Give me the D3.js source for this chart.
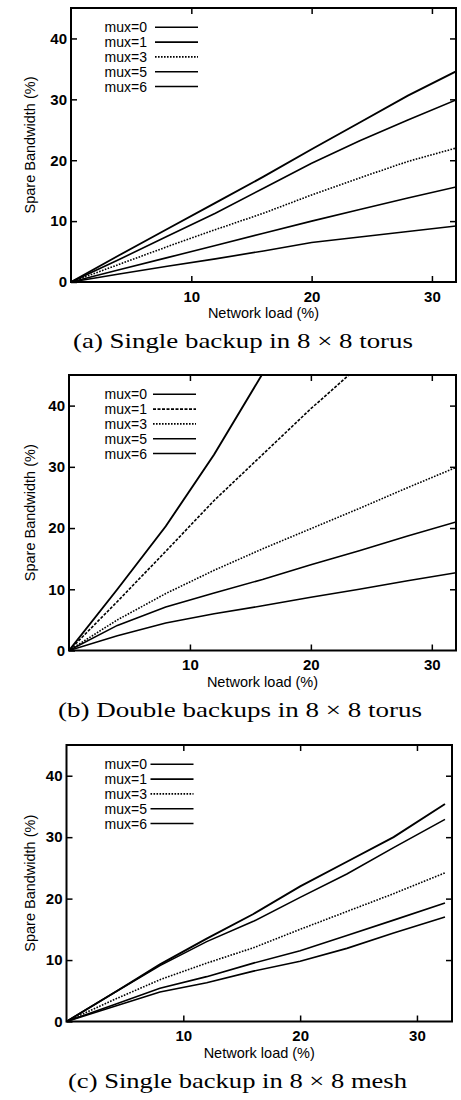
<!DOCTYPE html>
<html>
<head>
<meta charset="utf-8">
<script src="https://cdn.jsdelivr.net/npm/d3@7"></script>
<style>
  body { margin: 0; background: #fff; }
  .tick text { font-family: "Liberation Sans", Arial, sans-serif; font-weight: bold; font-size: 15px; fill: #000; }
  .tick line { stroke: #000; stroke-width: 1.5; }
</style>
</head>
<body>
<div class="charts"></div>
<script>
// network load (%) sample points
var loadTorus = [0, 4, 8, 12, 16, 20, 24, 28, 32];
var loadMesh = [0, 4, 8, 12, 16, 20, 24, 28, 32.4];

var muxLabels = ["mux=0", "mux=1", "mux=3", "mux=5", "mux=6"];

// spare bandwidth (%), one row per mux value
var torusSingle = [
  [0, 4.4, 8.7, 13.0, 17.3, 21.8, 26.2, 30.6, 34.6],
  [0, 3.7, 7.5, 11.3, 15.4, 19.5, 23.2, 26.6, 29.9],
  [0, 2.9, 5.8, 8.6, 11.3, 14.3, 17.1, 19.8, 22.0],
  [0, 2.0, 4.0, 6.0, 8.0, 10.0, 11.9, 13.8, 15.6],
  [0, 1.3, 2.6, 3.8, 5.1, 6.5, 7.4, 8.3, 9.2]
];
var torusDouble = [
  [0, 10.0, 20.3, 32.0, 45.2, null, null, null, null],
  [0, 8.0, 16.2, 24.5, 32.0, 39.5, 46.5, null, null],
  [0, 5.0, 9.3, 13.1, 16.6, 19.9, 23.2, 26.6, 29.9],
  [0, 4.1, 7.1, 9.4, 11.6, 14.0, 16.3, 18.7, 21.0],
  [0, 2.4, 4.5, 6.0, 7.3, 8.7, 10.0, 11.4, 12.7]
];
var meshSingle = [
  [0, 4.6, 9.3, 13.5, 17.5, 22.0, 26.0, 30.0, 35.4],
  [0, 4.6, 9.1, 13.0, 16.3, 20.2, 24.0, 28.3, 32.9],
  [0, 3.5, 6.8, 9.5, 12.0, 15.0, 17.9, 20.8, 24.2],
  [0, 2.7, 5.4, 7.3, 9.5, 11.5, 14.0, 16.5, 19.3],
  [0, 2.4, 4.8, 6.3, 8.2, 9.8, 11.9, 14.4, 17.0]
];

var xTicks = [10, 20, 30];
var yTicks = [0, 10, 20, 30, 40];
var captions = [
  "(a) Single backup in 8 \u00d7 8 torus",
  "(b) Double backups in 8 \u00d7 8 torus",
  "(c) Single backup in 8 \u00d7 8 mesh"
];

// layout of the three stacked plots
var panels = [
  { load: loadTorus, series: torusSingle, xMax: 32, left: 71, right: 456, top: 8, bottom: 282,
    dash: [null, null, "1.6,1.4", null, null], capX: 243, capW: 340 },
  { load: loadTorus, series: torusDouble, xMax: 32, left: 69, right: 456, top: 375, bottom: 650.5,
    dash: [null, "3,1.5", "1.6,1.4", null, null], capX: 240, capW: 364 },
  { load: loadMesh, series: meshSingle, xMax: 33, left: 66.5, right: 452, top: 745, bottom: 1021.5,
    dash: [null, null, "1.6,1.4", null, null], capX: 237.5, capW: 339 }
];

var svg = d3.select(".charts")
  .append("svg")
  .attr("width", 461)
  .attr("height", 1100);

panels.forEach(function(p, k) {
  var x = d3.scaleLinear().domain([0, p.xMax]).range([p.left, p.right]);
  var y = d3.scaleLinear().domain([0, 45]).range([p.bottom, p.top]);
  var g = svg.append("g");

  var clipId = "clip" + k;
  g.append("clipPath").attr("id", clipId)
    .append("rect")
    .attr("x", p.left).attr("y", p.top)
    .attr("width", p.right - p.left).attr("height", p.bottom - p.top);

  // axes, ticks pointing inward like gnuplot
  g.append("g")
    .attr("transform", `translate(0, ${p.bottom})`)
    .call(d3.axisBottom(x).tickValues(xTicks).tickSize(-6).tickSizeOuter(0).tickPadding(9));
  g.append("g")
    .attr("transform", `translate(0, ${p.top})`)
    .call(d3.axisTop(x).tickValues(xTicks).tickSize(-6).tickSizeOuter(0).tickFormat(""));
  g.append("g")
    .attr("transform", `translate(${p.left}, 0)`)
    .call(d3.axisLeft(y).tickValues(yTicks).tickSize(-6).tickSizeOuter(0).tickPadding(4));
  g.append("g")
    .attr("transform", `translate(${p.right}, 0)`)
    .call(d3.axisRight(y).tickValues(yTicks.slice(1)).tickSize(-6).tickSizeOuter(0).tickFormat(""));
  g.selectAll(".domain").remove();

  g.append("rect")
    .attr("x", p.left).attr("y", p.top)
    .attr("width", p.right - p.left).attr("height", p.bottom - p.top)
    .attr("fill", "none")
    .attr("stroke", "#000")
    .attr("stroke-width", 2);

  var line = d3.line()
    .defined(function(d) { return d[1] != null; })
    .x(function(d) { return x(d[0]); })
    .y(function(d) { return y(d[1]); });

  var lines = g.append("g").attr("clip-path", `url(#${clipId})`);
  p.series.forEach(function(vals, i) {
    var pts = p.load.map(function(l, j) { return [l, vals[j]]; });
    lines.append("path")
      .datum(pts)
      .attr("d", line)
      .attr("fill", "none")
      .attr("stroke", "#000")
      .attr("stroke-width", i == 0 ? 1.9 : 1.6)
      .attr("stroke-dasharray", p.dash[i]);
  });

  // legend
  var legend = g.append("g");
  muxLabels.forEach(function(lab, i) {
    var ly = p.top + 19.3 + i * 14.8;
    legend.append("text")
      .attr("x", 147)
      .attr("y", ly + 5)
      .attr("text-anchor", "end")
      .style("font-family", "Liberation Sans, Arial, sans-serif")
      .style("font-size", "14px")
      .text(lab);
    legend.append("line")
      .attr("x1", p.left + 84).attr("x2", p.left + 127)
      .attr("y1", ly).attr("y2", ly)
      .attr("stroke", "#000")
      .attr("stroke-width", 1.6)
      .attr("stroke-dasharray", p.dash[i]);
  });

  // axis titles
  g.append("text")
    .attr("x", (p.left + p.right) / 2)
    .attr("y", p.bottom + 36)
    .attr("text-anchor", "middle")
    .style("font-family", "Liberation Sans, Arial, sans-serif")
    .style("font-size", "14.5px")
    .text("Network load (%)");

  g.append("text")
    .attr("transform", `translate(35, ${(p.top + p.bottom) / 2}) rotate(-90)`)
    .attr("text-anchor", "middle")
    .style("font-family", "Liberation Sans, Arial, sans-serif")
    .style("font-size", "14.5px")
    .text("Spare Bandwidth (%)");

  g.append("text")
    .attr("x", p.capX)
    .attr("y", p.bottom + 66)
    .attr("text-anchor", "middle")
    .attr("textLength", p.capW)
    .attr("lengthAdjust", "spacingAndGlyphs")
    .style("font-family", "Liberation Serif, DejaVu Serif, serif")
    .style("font-size", "22px")
    .text(captions[k]);
});
</script>
</body>
</html>
